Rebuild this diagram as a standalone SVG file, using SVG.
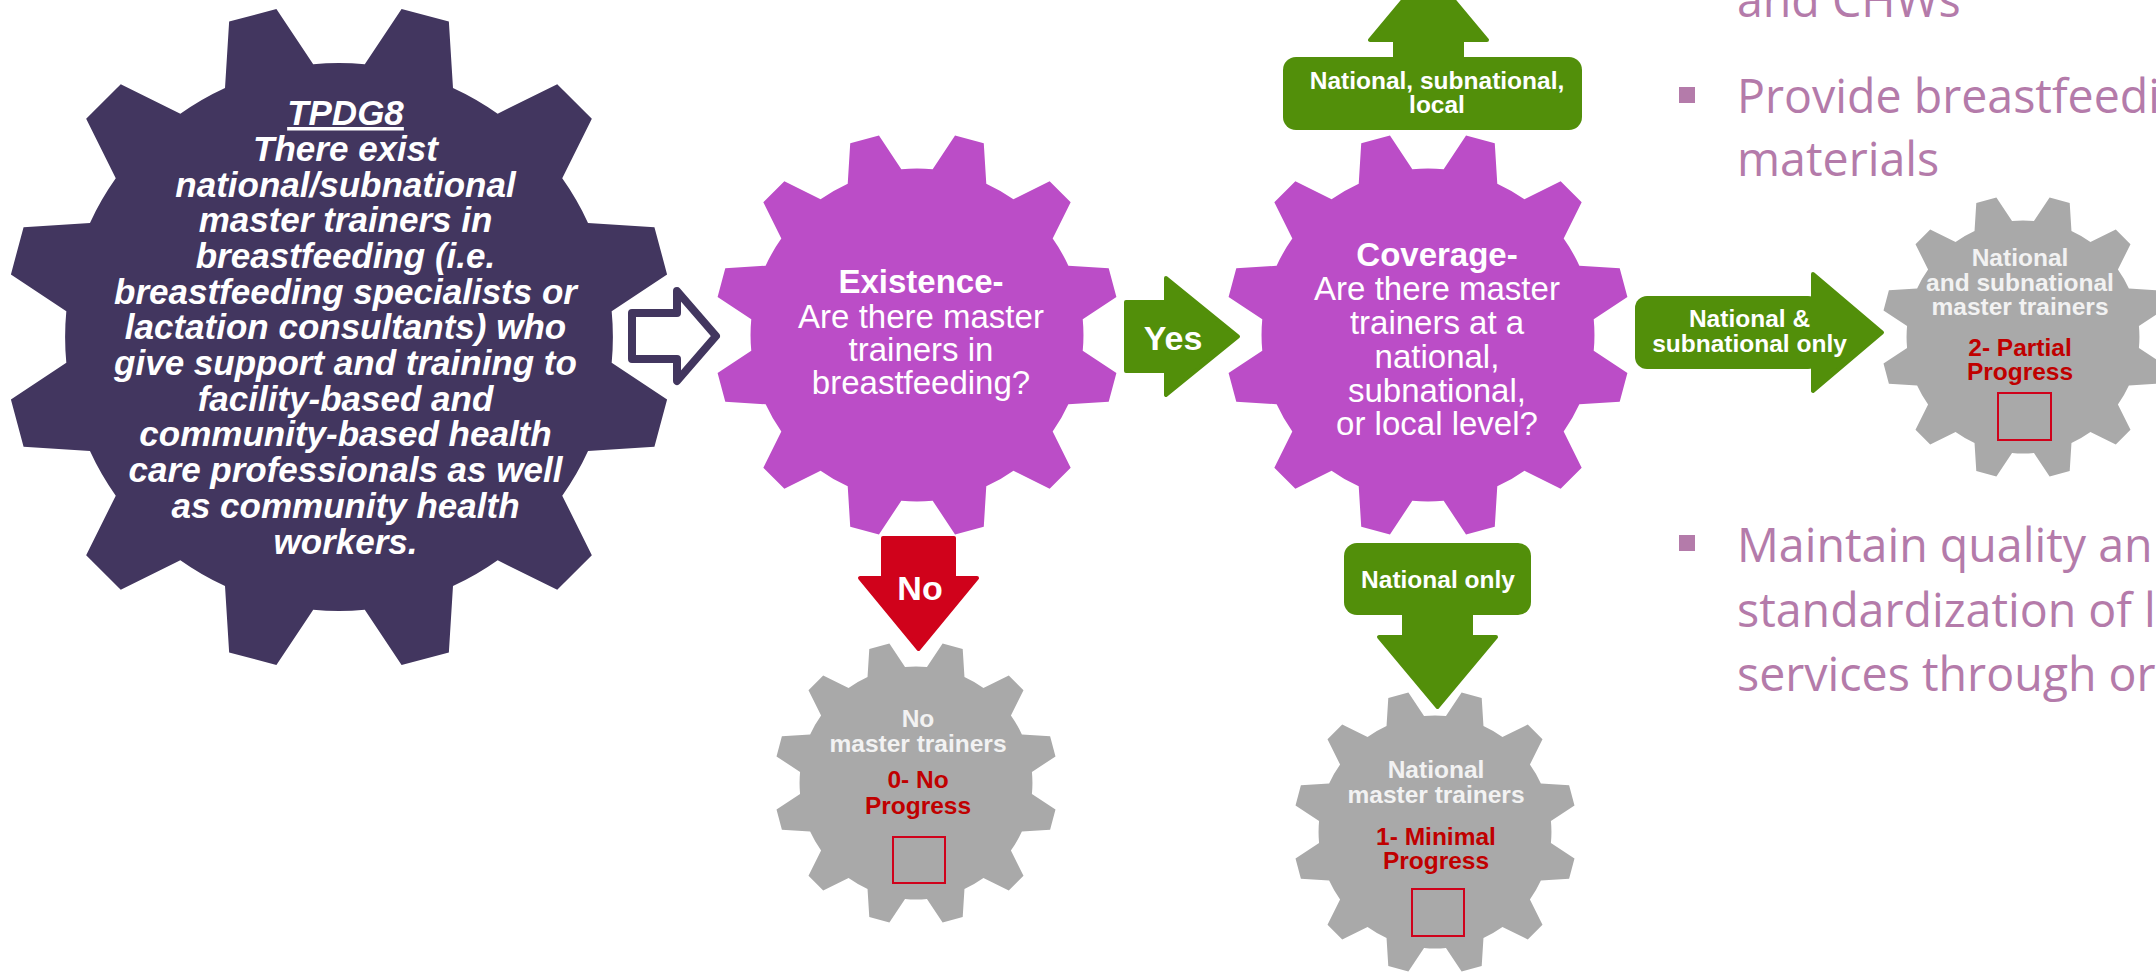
<svg xmlns="http://www.w3.org/2000/svg" xmlns:xlink="http://www.w3.org/1999/xlink" width="2156" height="974" viewBox="0 0 2156 974">
<style>
.dt{fill:#fff;font-family:'Liberation Sans',Arial,sans-serif;font-style:italic;font-weight:bold;font-size:35px;text-anchor:middle}
.ph{fill:#fff;font-family:'Liberation Sans',Arial,sans-serif;font-weight:bold;font-size:33px;text-anchor:middle}
.pt{fill:#fff;font-family:'Liberation Sans',Arial,sans-serif;font-size:33px;text-anchor:middle}
.gt{fill:#F2F2F2;font-family:'Liberation Sans',Arial,sans-serif;font-weight:bold;font-size:24.5px;text-anchor:middle}
.rt{fill:#C00000;font-family:'Liberation Sans',Arial,sans-serif;font-weight:bold;font-size:24.5px;text-anchor:middle}
.at{fill:#fff;font-family:'Liberation Sans',Arial,sans-serif;font-weight:bold;font-size:24.5px;text-anchor:middle}
.big{fill:#fff;font-family:'Liberation Sans',Arial,sans-serif;font-weight:bold;font-size:34px;text-anchor:middle}
.bt{fill:#B47BAA;font-family:'Open Sans','Noto Sans',sans-serif;font-size:48px}
.box{fill:none;stroke:#D0021B;stroke-width:2}
.green{fill:#528F0A;stroke:#528F0A;stroke-width:4;stroke-linejoin:round}
.red{fill:#D0021B;stroke:#D0021B;stroke-width:4;stroke-linejoin:round}
</style>
<defs>
<path id="gear" d="M7.72,-81.64 L18.74,-98.23 L32.89,-94.44 L34.13,-74.56 A82 82 0 0 1 47.50,-66.84 L65.34,-75.70 L75.70,-65.34 L66.84,-47.50 A82 82 0 0 1 74.56,-34.13 L94.44,-32.89 L98.23,-18.74 L81.64,-7.72 A82 82 0 0 1 81.64,7.72 L98.23,18.74 L94.44,32.89 L74.56,34.13 A82 82 0 0 1 66.84,47.50 L75.70,65.34 L65.34,75.70 L47.50,66.84 A82 82 0 0 1 34.13,74.56 L32.89,94.44 L18.74,98.23 L7.72,81.64 A82 82 0 0 1 -7.72,81.64 L-18.74,98.23 L-32.89,94.44 L-34.13,74.56 A82 82 0 0 1 -47.50,66.84 L-65.34,75.70 L-75.70,65.34 L-66.84,47.50 A82 82 0 0 1 -74.56,34.13 L-94.44,32.89 L-98.23,18.74 L-81.64,7.72 A82 82 0 0 1 -81.64,-7.72 L-98.23,-18.74 L-94.44,-32.89 L-74.56,-34.13 A82 82 0 0 1 -66.84,-47.50 L-75.70,-65.34 L-65.34,-75.70 L-47.50,-66.84 A82 82 0 0 1 -34.13,-74.56 L-32.89,-94.44 L-18.74,-98.23 L-7.72,-81.64 A82 82 0 0 1 7.72,-81.64 Z"/>
</defs>
<rect width="2156" height="974" fill="#fff"/>

<g id="bullets">
<rect x="1679" y="87" width="16" height="16" fill="#B47BAA"/>
<rect x="1679" y="535" width="16" height="16" fill="#B47BAA"/>
<g transform="scale(0.97,1)">
<text class="bt" x="1790.7" y="17">and CHWs</text>
<text class="bt" x="1790.7" y="113">Provide breastfeedi</text>
<text class="bt" x="1790.7" y="176">materials</text>
<text class="bt" x="1790.7" y="562">Maintain quality an</text>
<text class="bt" x="1790.7" y="627">standardization of l</text>
<text class="bt" x="1790.7" y="691">services through or</text>
</g>
</g>

<g id="node-tpdg8">
<use xlink:href="#gear" href="#gear" transform="translate(339,337) scale(3.34)" fill="#42365F"/>
<text class="dt" x="345.5" y="125" text-decoration="underline">TPDG8</text>
<text class="dt" x="345.5" y="161">There exist</text>
<text class="dt" x="345.5" y="196.5">national/subnational</text>
<text class="dt" x="345.5" y="232">master trainers in</text>
<text class="dt" x="345.5" y="268">breastfeeding (i.e.</text>
<text class="dt" x="345.5" y="303.5">breastfeeding specialists or</text>
<text class="dt" x="345.5" y="339">lactation consultants) who</text>
<text class="dt" x="345.5" y="375">give support and training to</text>
<text class="dt" x="345.5" y="410.5">facility-based and</text>
<text class="dt" x="345.5" y="446">community-based health</text>
<text class="dt" x="345.5" y="482">care professionals as well</text>
<text class="dt" x="345.5" y="518">as community health</text>
<text class="dt" x="345.5" y="553.5">workers.</text>
</g>

<g id="node-existence">
<use xlink:href="#gear" href="#gear" transform="translate(917,335) scale(2.03)" fill="#BB4DC7"/>
<text class="ph" x="921" y="293">Existence-</text>
<text class="pt" x="921" y="328">Are there master</text>
<text class="pt" x="921" y="361">trainers in</text>
<text class="pt" x="921" y="394">breastfeeding?</text>
</g>

<g id="node-coverage">
<use xlink:href="#gear" href="#gear" transform="translate(1428,335) scale(2.03)" fill="#BB4DC7"/>
<text class="ph" x="1437" y="266">Coverage-</text>
<text class="pt" x="1437" y="300">Are there master</text>
<text class="pt" x="1437" y="334">trainers at a</text>
<text class="pt" x="1437" y="368">national,</text>
<text class="pt" x="1437" y="402">subnational,</text>
<text class="pt" x="1437" y="435">or local level?</text>
</g>

<g id="node-no-progress">
<use xlink:href="#gear" href="#gear" transform="translate(916,783) scale(1.42)" fill="#A9A9A9"/>
<text class="gt" x="918" y="727">No</text>
<text class="gt" x="918" y="752">master trainers</text>
<text class="rt" x="918" y="788">0- No</text>
<text class="rt" x="918" y="814">Progress</text>
<rect class="box" x="893" y="837" width="52" height="46"/>
</g>

<g id="node-minimal-progress">
<use xlink:href="#gear" href="#gear" transform="translate(1435,832) scale(1.42)" fill="#A9A9A9"/>
<text class="gt" x="1436" y="778">National</text>
<text class="gt" x="1436" y="803">master trainers</text>
<text class="rt" x="1436" y="845">1- Minimal</text>
<text class="rt" x="1436" y="869">Progress</text>
<rect class="box" x="1412" y="889" width="52" height="47"/>
</g>

<g id="node-partial-progress">
<use xlink:href="#gear" href="#gear" transform="translate(2023,337) scale(1.42)" fill="#A9A9A9"/>
<text class="gt" x="2020" y="266">National</text>
<text class="gt" x="2020" y="291">and subnational</text>
<text class="gt" x="2020" y="315">master trainers</text>
<text class="rt" x="2020" y="356">2- Partial</text>
<text class="rt" x="2020" y="380">Progress</text>
<rect class="box" x="1998" y="393" width="53" height="47"/>
</g>

<g id="connectors">
<polygon points="632,313 677,313 677,291 716,336 677,381 677,359 632,359" fill="#fff" stroke="#42365F" stroke-width="8" stroke-linejoin="round"/>
<polygon class="green" points="1126,302 1166,302 1166,278 1238,336.5 1166,395 1166,371 1126,371"/>
<text class="big" x="1173" y="350">Yes</text>
<polygon class="red" points="883,538 954,538 954,578 977,578 918.5,649 860,578 883,578"/>
<text class="big" x="920" y="600">No</text>
<g>
<rect x="1283" y="57" width="299" height="73" rx="13" fill="#528F0A"/>
<rect x="1393" y="38" width="71" height="22" fill="#528F0A"/>
<polygon class="green" points="1370,40 1487,40 1428.5,-30"/>
<text class="at" x="1437" y="89">National, subnational,</text>
<text class="at" x="1437" y="113">local</text>
</g>
<g>
<rect x="1344" y="543" width="187" height="72" rx="13" fill="#528F0A"/>
<rect x="1402" y="612" width="71" height="27" fill="#528F0A"/>
<polygon class="green" points="1379,637 1496,637 1437.5,707"/>
<text class="at" x="1438" y="588">National only</text>
</g>
<g>
<rect x="1635" y="296" width="185" height="73" rx="12" fill="#528F0A"/>
<polygon class="green" points="1813,274 1882,332.5 1813,391"/>
<text class="at" x="1749.5" y="327">National &amp;</text>
<text class="at" x="1749.5" y="352">subnational only</text>
</g>
</g>
</svg>
